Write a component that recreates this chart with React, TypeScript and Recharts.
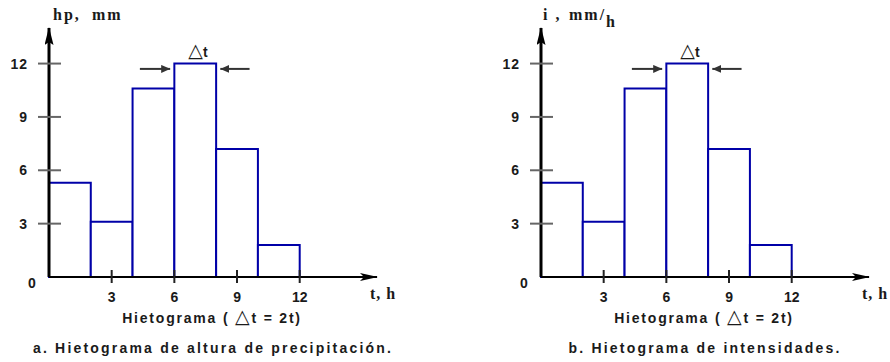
import React from 'react';
import { ComposedChart, XAxis, YAxis, ReferenceArea, ReferenceLine } from 'recharts';

// ---- data ----
const binStart = [0, 2, 4, 6, 8, 10];
const binEnd = [2, 4, 6, 8, 10, 12];
const depthValues = [5.3, 3.1, 10.6, 12, 7.2, 1.8]; // hp, mm
const intensityValues = [5.3, 3.1, 10.6, 12, 7.2, 1.8]; // i, mm/h
const xTicks = [0, 3, 6, 9, 12];
const yTicks = [0, 3, 6, 9, 12];
const xMax = 15.7;
const yMax = 14;
const dtLeftArrow = [4.35, 5.8];
const dtRightArrow = [9.6, 8.2];
const dtArrowLevel = 11.7;

const W = 398;
const H = 362;
const BAR = '#0000a8';
const SANS = 'Liberation Sans, Arial, sans-serif';
const SERIF = 'Liberation Serif, Times New Roman, serif';
const TRI = 'DejaVu Sans, sans-serif';

const XTick = (props: any) => {
  const { x, y, payload } = props;
  if (payload.value === 0) return <g />;
  return (
    <g>
      <line x1={x} x2={x} y1={y - 7} y2={y + 6} stroke="#222" strokeWidth={2} />
      <text x={x} y={y + 24.5} textAnchor="middle" fontFamily={SANS} fontWeight="bold" fontSize={14} fill="#1a1a1a">
        {payload.value}
      </text>
    </g>
  );
};

const YTick = (props: any) => {
  const { x, y, payload } = props;
  if (payload.value === 0) {
    return (
      <text x={x - 17} y={y + 11} textAnchor="middle" fontFamily={SANS} fontWeight="bold" fontSize={14} fill="#1a1a1a">
        0
      </text>
    );
  }
  return (
    <g>
      <line x1={x - 11} x2={x + 12} y1={y} y2={y} stroke="#666" strokeWidth={2} />
      <text x={x - 21} y={y + 5} textAnchor="end" fontFamily={SANS} fontWeight="bold" fontSize={14} fill="#1a1a1a" letterSpacing={1}>
        {payload.value}
      </text>
    </g>
  );
};

type PanelProps = { id: string; values: number[]; yLabel: React.ReactNode; caption: string };

const Panel = ({ id, values, yLabel, caption }: PanelProps) => {
  const data = values.map((v, i) => ({ t: (binStart[i] + binEnd[i]) / 2, v }));
  return (
    <ComposedChart width={W} height={H} data={data} margin={{ top: 28, right: 21, bottom: 84, left: 48 }}>
      <defs>
        <marker id={`xa-${id}`} viewBox="0 0 18 8" refX={17} refY={4} markerWidth={18} markerHeight={8} markerUnits="userSpaceOnUse" orient="auto">
          <path d="M0,0 L18,4 L0,8 L4,4 z" fill="#000" />
        </marker>
        <marker id={`ya-${id}`} viewBox="0 0 18 9" refX={17} refY={4.5} markerWidth={18} markerHeight={9} markerUnits="userSpaceOnUse" orient="auto-start-reverse">
          <path d="M0,0 L18,4.5 L0,9 L3,4.5 z" fill="#000" />
        </marker>
        <marker id={`da-${id}`} viewBox="0 0 9 8" refX={9} refY={4} markerWidth={9} markerHeight={8} markerUnits="userSpaceOnUse" orient="auto">
          <path d="M0,0 L9,4 L0,8 z" fill="#333" />
        </marker>
      </defs>
      {values.map((v, i) => (
        <ReferenceArea
          key={i}
          x1={binStart[i]}
          x2={binEnd[i]}
          y1={0}
          y2={v}
          stroke={BAR}
          strokeWidth={2}
          fill="#ffffff"
          fillOpacity={1}
          ifOverflow="visible"
        />
      ))}
      <ReferenceLine
        segment={[{ x: dtLeftArrow[0], y: dtArrowLevel }, { x: dtLeftArrow[1], y: dtArrowLevel }]}
        stroke="#333"
        strokeWidth={2}
        markerEnd={`url(#da-${id})`}
        ifOverflow="visible"
      />
      <ReferenceLine
        segment={[{ x: dtRightArrow[0], y: dtArrowLevel }, { x: dtRightArrow[1], y: dtArrowLevel }]}
        stroke="#333"
        strokeWidth={2}
        markerEnd={`url(#da-${id})`}
        ifOverflow="visible"
      />
      <XAxis
        type="number"
        dataKey="t"
        domain={[0, xMax]}
        ticks={xTicks}
        allowDataOverflow
        height={1}
        tickSize={0}
        tickMargin={0}
        tick={<XTick />}
        axisLine={{ stroke: '#000', strokeWidth: 2, markerEnd: `url(#xa-${id})` }}
        tickLine={false}
        interval={0}
      />
      <YAxis
        type="number"
        domain={[0, yMax]}
        ticks={yTicks}
        allowDataOverflow
        width={1}
        tickSize={0}
        tickMargin={0}
        tick={<YTick />}
        axisLine={{ stroke: '#000', strokeWidth: 3, markerStart: `url(#ya-${id})` }}
        tickLine={false}
        interval={0}
      />
      {yLabel}
      <text x={198} y={57} textAnchor="middle" fontWeight="bold" fontSize={14} fill="#1a1a1a">
        <tspan fontFamily={TRI} fontSize={19}>△</tspan>
        <tspan fontFamily={SANS}>t</tspan>
      </text>
      <text x={370} y={299} fontFamily={SERIF} fontWeight="bold" fontSize={16} fill="#1a1a1a" letterSpacing={1}>t, h</text>
      <text x={212} y={322.5} textAnchor="middle" fontFamily={SANS} fontWeight="bold" fontSize={14} fill="#1a1a1a" letterSpacing={1.8}>
        Hietograma ( <tspan fontFamily={TRI} fontSize={19}>△</tspan>t = 2t)
      </text>
      <text x={213} y={353} textAnchor="middle" fontFamily={SANS} fontWeight="bold" fontSize={14} fill="#1a1a1a" letterSpacing={2.2}>
        {caption}
      </text>
    </ComposedChart>
  );
};

export default function App() {
  return (
    <div style={{ position: 'absolute', left: 0, top: 0, width: 890, height: 362, background: '#fff' }}>
      <div style={{ position: 'absolute', left: 0, top: 0 }}>
        <Panel
          id="a"
          values={depthValues}
          caption="a. Hietograma de altura de precipitación."
          yLabel={
            <text x={53} y={20} fontFamily={SERIF} fontWeight="bold" fontSize={16} fill="#1a1a1a" letterSpacing={2}>
              hp,<tspan x={92}>mm</tspan>
            </text>
          }
        />
      </div>
      <div style={{ position: 'absolute', left: 492, top: 0 }}>
        <Panel
          id="b"
          values={intensityValues}
          caption="b. Hietograma de intensidades."
          yLabel={
            <text x={51} y={20} fontFamily={SERIF} fontWeight="bold" fontSize={16} fill="#1a1a1a" letterSpacing={2}>
              i ,
              <tspan x={77}>mm/</tspan>
              <tspan dy={7}>h</tspan>
            </text>
          }
        />
      </div>
    </div>
  );
}
